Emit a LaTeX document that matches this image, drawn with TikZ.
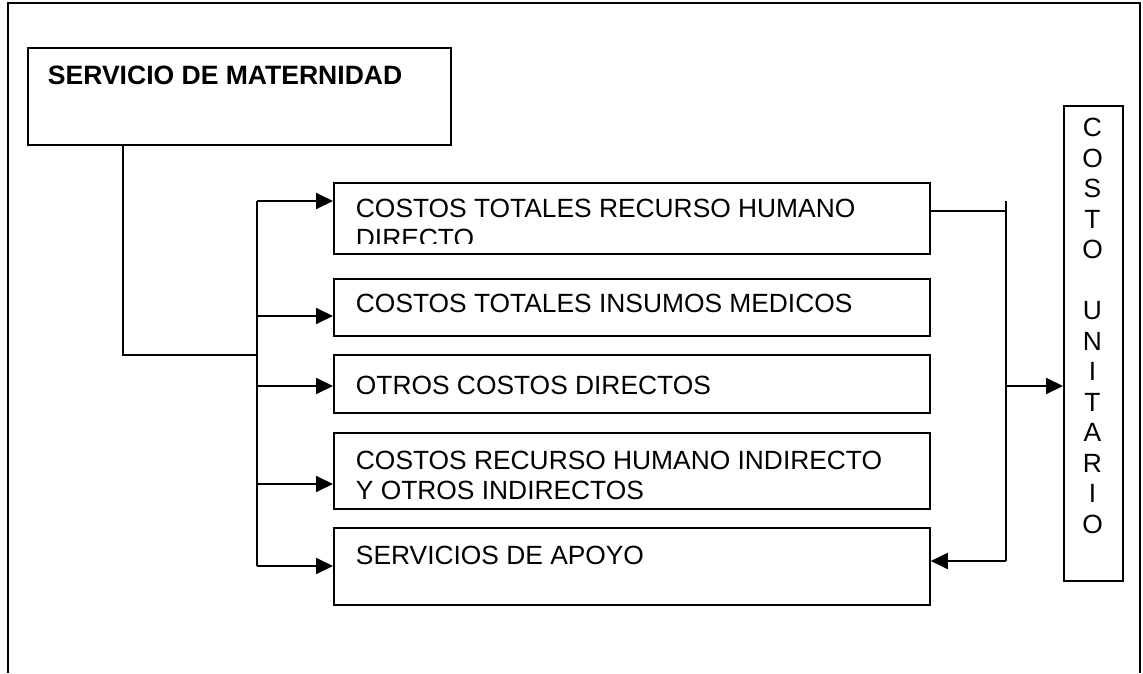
\documentclass[tikz,border=0pt]{standalone}
\usepackage{fontspec}
\setmainfont{Liberation Sans}
\usetikzlibrary{arrows.meta}

\begin{document}
\begin{tikzpicture}[x=0.02cm, y=-0.02cm, line width=1.1pt,
    caja/.style={draw, inner sep=0pt, anchor=north west},
    txt/.style={inner sep=0pt, anchor=north west, align=left, font=\fontsize{15}{17.4}\selectfont},
    flecha/.style={-{Triangle[length=0.34cm,width=0.32cm]}}]

  \useasboundingbox (0,0) rectangle (1143,673);
  % marco exterior
  \draw (8,673) -- (8,3) -- (1140,3) -- (1140,673);

  % caja principal
  \node[caja, minimum width=8.46cm, minimum height=1.94cm] (mat) at (27,47) {};
  \node[txt, font=\fontsize{15.1}{17.4}\selectfont\bfseries] (tmat) at (47,65) {SERVICIO DE MATERNIDAD};

  % cajas de costos
  \node[caja, minimum width=11.92cm, minimum height=1.42cm] (rhd) at (333,182) {};
  \node[caja, minimum width=11.92cm, minimum height=1.14cm] (ins) at (333,278) {};
  \node[caja, minimum width=11.92cm, minimum height=1.16cm] (ocd) at (333,354) {};
  \node[caja, minimum width=11.92cm, minimum height=1.52cm] (rhi) at (333,432) {};
  \node[caja, minimum width=11.92cm, minimum height=1.54cm] (apoyo) at (333,527) {};
  \begin{scope}
    \clip (333,182) rectangle (929,243);
    \node[txt] (trhd) at (355,198) {COSTOS TOTALES RECURSO HUMANO\\DIRECTO};
  \end{scope}
  \node[txt] (tins) at (355,293) {COSTOS TOTALES INSUMOS MEDICOS};
  \node[txt] (tocd) at (355,375) {OTROS COSTOS DIRECTOS};
  \node[txt] (trhi) at (355,450) {COSTOS RECURSO HUMANO INDIRECTO\\Y OTROS INDIRECTOS};
  \node[txt] (tapoyo) at (355,545) {SERVICIOS DE APOYO};

  % costo unitario
  \node[caja, minimum width=1.18cm, minimum height=9.5cm] (cu) at (1063,105) {};
  \node[inner sep=0pt, align=center, font=\fontsize{15}{17.36}\selectfont] (tcu) at (1092.5,326)
    {C\\O\\S\\T\\O\\[17.36pt]U\\N\\I\\T\\A\\R\\I\\O};

  % conectores izquierda
  \coordinate (codo) at (123,355);
  \coordinate (a1) at (257,201);
  \coordinate (a2) at (257,316);
  \coordinate (a3) at (257,386);
  \coordinate (a4) at (257,484);
  \coordinate (a5) at (257,566);
  \draw (codo |- mat.south) -- (codo) -- (codo -| a1);
  \draw (a1) -- (a5);
  \draw[flecha] (a1) -- (a1 -| rhd.west);
  \draw[flecha] (a2) -- (a2 -| ins.west);
  \draw[flecha] (a3) -- (a3 -| ocd.west);
  \draw[flecha] (a4) -- (a4 -| rhi.west);
  \draw[flecha] (a5) -- (a5 -| apoyo.west);

  % conectores derecha
  \coordinate (r0) at (1006,201);
  \coordinate (r1) at (1006,211);
  \coordinate (r2) at (1006,386);
  \coordinate (r3) at (1006,561);
  \draw (r1 -| rhd.east) -- (r1);
  \draw (r0) -- (r3);
  \draw[flecha] (r2) -- (r2 -| cu.west);
  \draw[flecha] (r3) -- (r3 -| apoyo.east);
\end{tikzpicture}
\end{document}
